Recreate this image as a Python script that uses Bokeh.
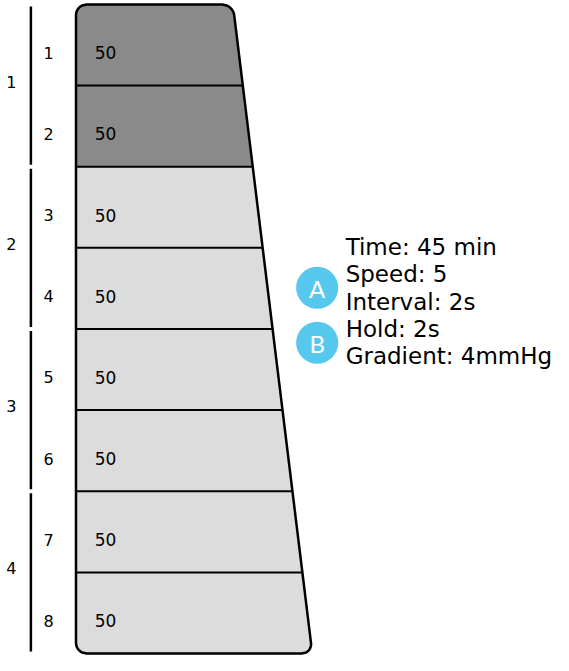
import numpy as np
from bokeh.plotting import figure
from bokeh.models import Range1d
from bokeh.core.properties import value
from bokeh.embed import file_html
from bokeh.resources import INLINE

# ---- data ----
segment_labels = ["1", "2", "3", "4", "5", "6", "7", "8"]
segment_values = [50, 50, 50, 50, 50, 50, 50, 50]
segment_phase = ["dark", "dark", "light", "light", "light", "light", "light", "light"]
group_labels = ["1", "2", "3", "4"]
info_lines = ["Time: 45 min", "Speed: 5", "Interval: 2s", "Hold: 2s", "Gradient: 4mmHg"]
badges = ["A", "B"]
badge_line_pairs = [(1, 2), (3, 4)]  # badge sits between these two info lines

# ---- style / layout ----
PHASE_COLOR = {"dark": "#8a8a8a", "light": "#dcdcdc"}
TOP = 7.0
SEG_H = 82.75
LEFT_X = 82.0
RIGHT_TOP = 242.0
RIGHT_BOTTOM = 323.0
R = 11.0
N = len(segment_labels)
BOTTOM = TOP + N * SEG_H
SLOPE = (RIGHT_BOTTOM - RIGHT_TOP) / (BOTTOM - TOP)
BADGE_COLOR = "#56c8ee"
FONT = value("DejaVu Sans")


def edges(y):
    y = np.asarray(y, dtype=float)
    xl = np.full_like(y, LEFT_X)
    xr = RIGHT_TOP + (y - TOP) * SLOPE
    d = np.zeros_like(y)
    m = y < TOP + R
    d[m] = R - np.sqrt(np.clip(R**2 - (TOP + R - y[m]) ** 2, 0, None))
    m2 = y > BOTTOM - R
    d[m2] = R - np.sqrt(np.clip(R**2 - (y[m2] - (BOTTOM - R)) ** 2, 0, None))
    return xl + d, xr - d


p = figure(width=553, height=655, x_range=Range1d(5, 569), y_range=Range1d(671, 3),
           toolbar_location=None, output_backend="svg", min_border=0,
           x_axis_location=None, y_axis_location=None)
p.grid.visible = False
p.outline_line_color = None
p.background_fill_color = "white"

# segment fills
xs, ys, colors = [], [], []
for i in range(N):
    y0 = TOP + i * SEG_H
    y1 = y0 + SEG_H
    yy = np.linspace(y0, y1, 60)
    xl, xr = edges(yy)
    xs.append(list(np.concatenate([xl, xr[::-1]])))
    ys.append(list(np.concatenate([yy, yy[::-1]])))
    colors.append(PHASE_COLOR[segment_phase[i]])
p.patches(xs=xs, ys=ys, fill_color=colors, line_color=None)

# dividers
div_y = [TOP + i * SEG_H for i in range(1, N)]
dl, dr = edges(div_y)
p.segment(x0=list(dl), y0=div_y, x1=list(dr), y1=div_y, line_color="black", line_width=2)

# outline
yy = np.linspace(TOP, BOTTOM, 600)
xl, xr = edges(yy)
p.patch(x=list(np.concatenate([xl, xr[::-1]])), y=list(np.concatenate([yy, yy[::-1]])),
        fill_color=None, line_color="black", line_width=2.5, line_join="round")

# segment labels and values
mid = [TOP + (i + 0.5) * SEG_H + 8 for i in range(N)]
p.text(x=[54] * N, y=mid, text=segment_labels, text_font=FONT, text_font_size="16px",
       text_align="center", text_baseline="middle", text_color="black")
p.text(x=[101] * N, y=mid, text=[str(v) for v in segment_values], text_font=FONT,
       text_font_size="17px", text_align="left", text_baseline="middle", text_color="black")

# group bars and labels
G = len(group_labels)
per = N // G
g0 = [TOP + g * per * SEG_H + 2 for g in range(G)]
g1 = [TOP + (g + 1) * per * SEG_H - 2 for g in range(G)]
p.segment(x0=[36] * G, y0=g0, x1=[36] * G, y1=g1, line_color="black", line_width=2.5)
gmid = [TOP + (g + 0.5) * per * SEG_H - 4 for g in range(G)]
p.text(x=[16] * G, y=gmid, text=group_labels, text_font=FONT, text_font_size="16px",
       text_align="center", text_baseline="middle", text_color="black")

# info text
LINE0 = 254
LINE_H = 28
info_y = [LINE0 + k * LINE_H for k in range(len(info_lines))]
p.text(x=[357] * len(info_lines), y=info_y, text=info_lines, text_font=FONT,
       text_font_size="23px", text_align="left", text_baseline="middle", text_color="black")

# badges
by = [(info_y[a] + info_y[b]) / 2 for a, b in badge_line_pairs]
p.circle(x=[328] * len(badges), y=by, radius=21.5, fill_color=BADGE_COLOR, line_color=None)
p.text(x=[328] * len(badges), y=[v + 1 for v in by], text=badges, text_font=value("Lato"),
       text_font_size="24px", text_align="center", text_baseline="middle", text_color="white")

open("out.html", "w").write(file_html(p, INLINE))
